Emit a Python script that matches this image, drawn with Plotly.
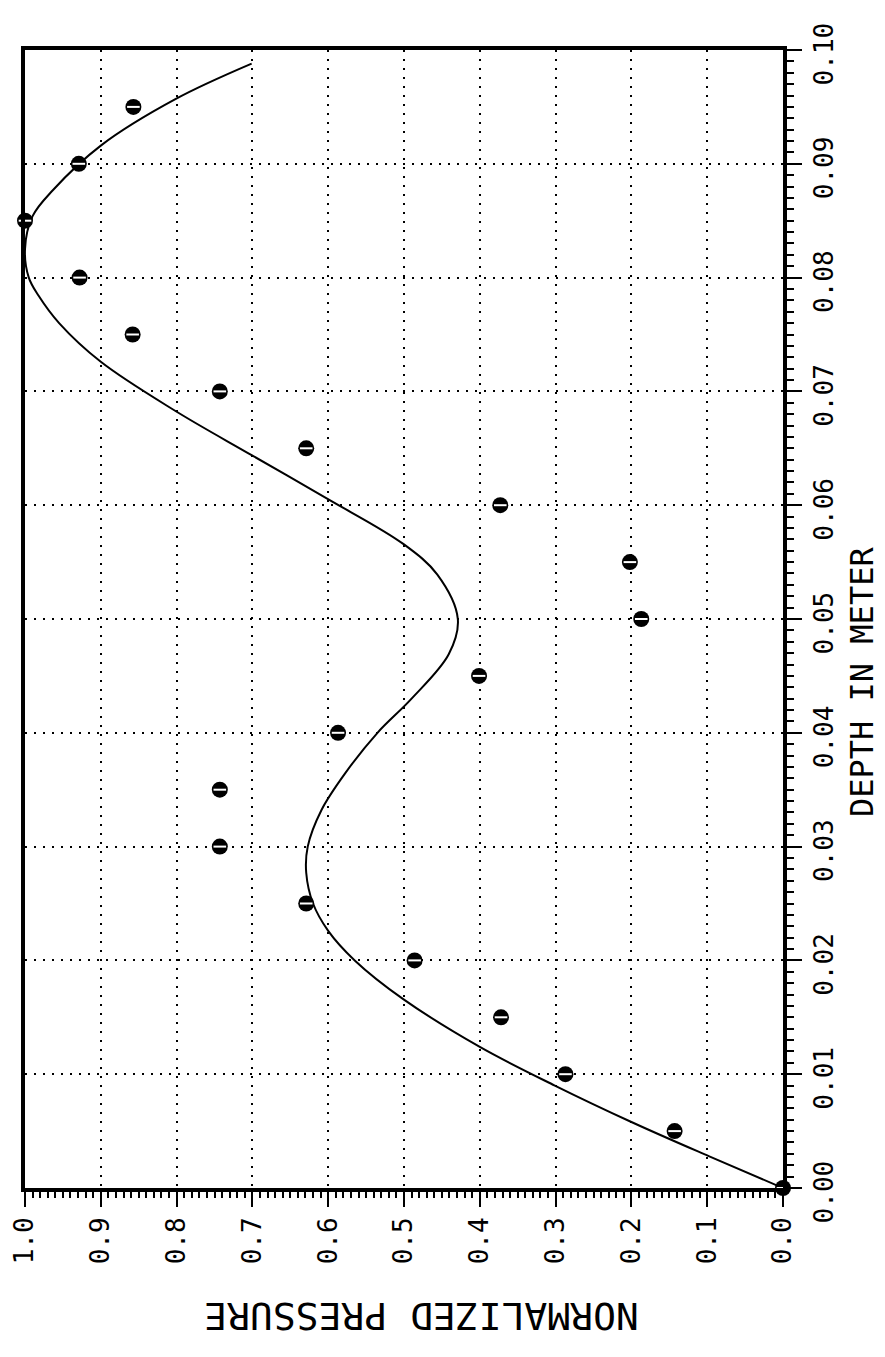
import plotly.graph_objects as go

# Measured points (depth in meter, normalized pressure)
point_depth = [0.000, 0.005, 0.010, 0.015, 0.020, 0.025, 0.030, 0.035, 0.040, 0.045,
               0.050, 0.055, 0.060, 0.065, 0.070, 0.075, 0.080, 0.085, 0.090, 0.095]
point_pressure = [0.000, 0.143, 0.287, 0.372, 0.486, 0.629, 0.743, 0.743, 0.587, 0.401,
                  0.187, 0.202, 0.373, 0.629, 0.743, 0.858, 0.928, 1.000, 0.929, 0.857]

# Theoretical curve
curve_depth = [0.0000, 0.0028, 0.0058, 0.0090, 0.0124, 0.0166, 0.0200, 0.0226, 0.0250,
               0.0277, 0.0300, 0.0332, 0.0365, 0.0400, 0.0430, 0.0469, 0.0500,
               0.0539, 0.0566, 0.0606, 0.0644, 0.0683, 0.0726, 0.0760, 0.0784,
               0.0800, 0.0825, 0.0854, 0.0877, 0.0916, 0.0957, 0.0988]
curve_pressure = [0.000, 0.098, 0.200, 0.301, 0.400, 0.501, 0.565, 0.600, 0.620,
                  0.629, 0.627, 0.609, 0.577, 0.535, 0.490, 0.441, 0.429,
                  0.456, 0.501, 0.602, 0.701, 0.802, 0.900, 0.955, 0.982,
                  0.995, 1.000, 0.990, 0.963, 0.900, 0.801, 0.701]

x_title = "NORMALIZED PRESSURE"
y_title = "DEPTH IN METER"

FONT = "DejaVu Sans Mono, monospace"

fig = go.Figure()
fig.add_trace(go.Scatter(
    x=curve_pressure, y=curve_depth, mode="lines",
    line=dict(color="black", width=2, shape="spline", smoothing=1.0),
    hoverinfo="skip", showlegend=False))
fig.add_trace(go.Scatter(
    x=point_pressure, y=point_depth, mode="markers",
    marker=dict(symbol="circle", size=16, color="black"),
    showlegend=False, cliponaxis=False))
fig.add_trace(go.Scatter(
    x=point_pressure, y=point_depth, mode="markers",
    marker=dict(symbol="line-ew", size=9, color="white",
                line=dict(color="white", width=2)),
    showlegend=False, cliponaxis=False, hoverinfo="skip"))

axis_common = dict(
    showline=True, linecolor="black", linewidth=4, mirror=True,
    showgrid=True, gridcolor="black", gridwidth=2, griddash="2px,7px",
    zeroline=False, automargin=False, ticklabeloverflow="allow",
    ticks="outside", ticklen=15, tickwidth=2, tickcolor="black",
    tickangle=-90,
    tickfont=dict(family=FONT, size=26, color="black"),
)

fig.update_layout(
    width=885, height=1357,
    margin=dict(l=17, r=110, t=42, b=177),
    paper_bgcolor="white", plot_bgcolor="white",
    xaxis=dict(range=[1.0, 0.0], dtick=0.1, tick0=0, tickformat=".1f",
               minor=dict(dtick=0.01, ticks="outside", ticklen=6, tickwidth=1.5,
                          tickcolor="black", showgrid=False),
               **axis_common),
    yaxis=dict(range=[0.0, 0.10], dtick=0.01, tick0=0, tickformat=".2f", side="right",
               ticklabelshift=8,
               minor=dict(dtick=0.001, ticks="outside", ticklen=7, tickwidth=1.5,
                          tickcolor="black", showgrid=False),
               **axis_common),
    annotations=[
        dict(text=y_title, xref="paper", yref="paper", x=1.1035, y=0.445,
             xanchor="center", yanchor="middle",
             showarrow=False, textangle=-90,
             font=dict(family=FONT, size=32, color="black")),
        dict(text=x_title, xref="paper", yref="paper", x=0.523, y=-0.112,
             xanchor="center", yanchor="middle",
             showarrow=False, textangle=180,
             font=dict(family=FONT, size=38, color="black")),
    ],
)

fig.write_html("out.html")
